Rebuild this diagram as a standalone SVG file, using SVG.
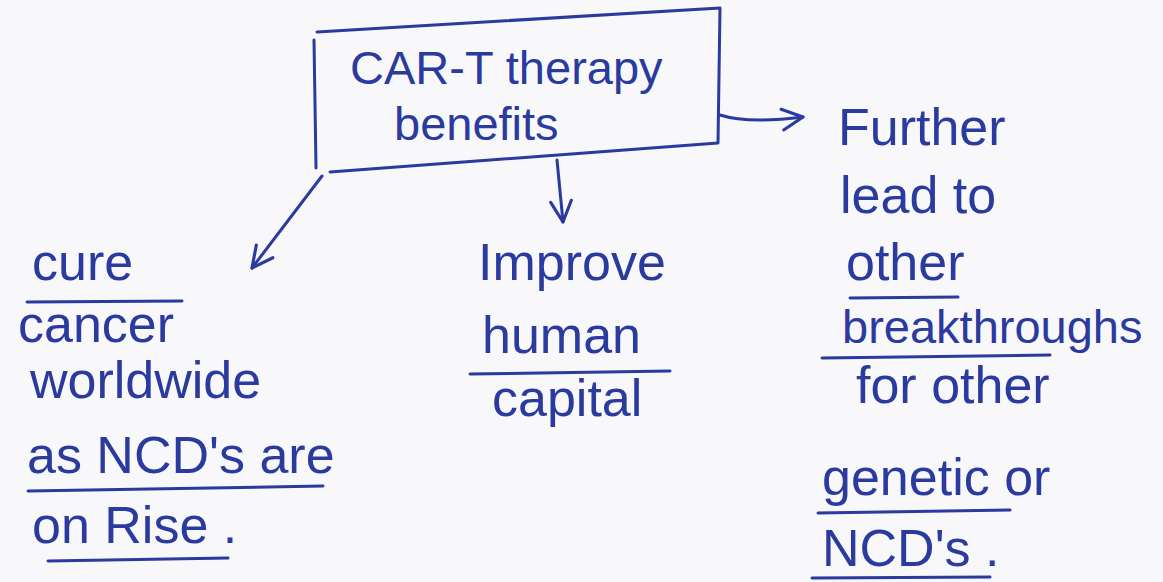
<svg xmlns="http://www.w3.org/2000/svg" width="1163" height="582" viewBox="0 0 1163 582">
<style>
.ink{fill:none;stroke:#2a3a9e;stroke-width:3;stroke-linecap:round;stroke-linejoin:round}
.t{font-family:"Liberation Sans","DejaVu Sans",sans-serif;font-size:52px;fill:#2a3a9e}
.h{font-size:47px}
.s{font-size:47px}
</style>
<defs>
<marker id="arr" viewBox="0 0 20 20" refX="18" refY="10" markerWidth="26" markerHeight="26" markerUnits="userSpaceOnUse" orient="auto">
<path d="M2,2 L18,10 L2,18" fill="none" stroke="#2a3a9e" stroke-width="2.4" stroke-linecap="round" stroke-linejoin="round"/>
</marker>
</defs>
<rect width="1163" height="582" fill="#f8f8fa"/>
<g id="connectors">
<path class="ink" d="M322,176 L252,268" marker-end="url(#arr)"/>
<path class="ink" d="M557,160 L563,222" marker-end="url(#arr)"/>
<path class="ink" d="M720,115 Q748,124 803,117" marker-end="url(#arr)"/>
</g>
<g id="root">
<path class="ink" d="M314,40 L316,168 M317,32 L720,8 L718,143 L330,172"/>
<text class="t h" x="350" y="84">CAR-T therapy</text>
<text class="t h" x="394" y="140">benefits</text>
</g>
<g id="cure">
<text class="t" x="32" y="280">cure</text>
<path class="ink" d="M27,302 L182,301"/>
<text class="t" x="18" y="342">cancer</text>
<text class="t" x="30" y="398">worldwide</text>
<text class="t" x="27" y="473">as NCD's are</text>
<path class="ink" d="M28,491 L323,486"/>
<text class="t" x="32" y="543">on Rise .</text>
<path class="ink" d="M48,561 L228,558"/>
</g>
<g id="improve">
<text class="t" x="478" y="280">Improve</text>
<text class="t" x="482" y="353">human</text>
<path class="ink" d="M470,374 L670,371"/>
<text class="t" x="492" y="416">capital</text>
</g>
<g id="further">
<text class="t" x="838" y="145">Further</text>
<text class="t" x="840" y="213">lead to</text>
<text class="t" x="846" y="280">other</text>
<path class="ink" d="M850,298 L958,297"/>
<text class="t s" x="842" y="343">breakthroughs</text>
<path class="ink" d="M822,358 L1050,355"/>
<text class="t" x="856" y="403">for other</text>
<text class="t" x="822" y="495">genetic or</text>
<path class="ink" d="M818,513 L1010,510"/>
<text class="t" x="822" y="566">NCD's .</text>
<path class="ink" d="M812,578 L990,577"/>
</g>
</svg>
